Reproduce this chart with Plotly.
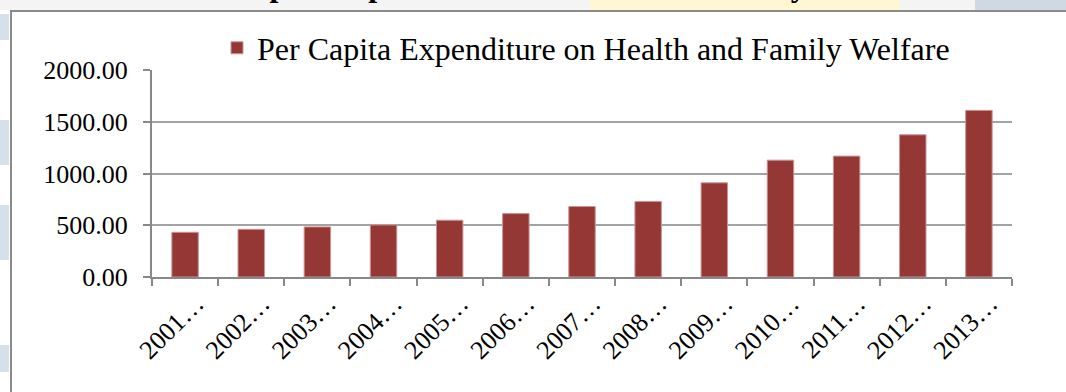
import plotly.graph_objects as go

# Per capita expenditure on Health and Family Welfare (Rs.), by year
years = ["2001…", "2002…", "2003…", "2004…", "2005…", "2006…", "2007…",
         "2008…", "2009…", "2010…", "2011…", "2012…", "2013…"]
expenditure = [432, 461, 484, 503, 549, 613, 681, 730, 910, 1129, 1168, 1374, 1610]
y_ticks = [0, 500, 1000, 1500, 2000]
y_tick_text = ["0.00", "500.00", "1000.00", "1500.00", "2000.00"]

series_name = "Per Capita Expenditure on Health and Family Welfare"
title_text = "Per Capita Expenditure on Health and Family Welfare"

W, H = 1066, 392
ML, MR, MT, MB = 152, 54, 70, 115
PW, PH = W - ML - MR, H - MT - MB


def xp(px):
    return (px - ML) / PW


def yp(py):
    return (H - MB - py) / PH


serif = "Liberation Serif, Times New Roman, serif"
bar_red = "#953735"
grid_grey = "#a3a3a3"
axis_grey = "#888888"

fig = go.Figure(
    go.Bar(
        x=years,
        y=expenditure,
        name=series_name,
        marker=dict(color=bar_red, line=dict(color="#c99695", width=1)),
        showlegend=True,
    )
)

shapes = [
    # grey strip above the framed chart
    dict(type="rect", xref="paper", yref="paper", x0=xp(0), x1=xp(W), y0=yp(10), y1=yp(0),
         fillcolor="#f4f4f4", line=dict(width=0), layer="below"),
    dict(type="rect", xref="paper", yref="paper", x0=xp(590), x1=xp(900), y0=yp(10), y1=yp(0),
         fillcolor="#fff6d2", line=dict(width=0), layer="below"),
    dict(type="rect", xref="paper", yref="paper", x0=xp(975), x1=xp(W), y0=yp(10), y1=yp(0),
         fillcolor="#cfd9e4", line=dict(width=0), layer="below"),
]
# faint decoration in the left margin
for top, bottom in [(14, 40), (120, 165), (205, 260), (345, 372)]:
    shapes.append(dict(type="rect", xref="paper", yref="paper", x0=xp(0), x1=xp(9),
                       y0=yp(bottom), y1=yp(top), fillcolor="#d6e0ea",
                       line=dict(width=0), layer="below"))
# frame around the chart
shapes.append(dict(type="path", xref="paper", yref="paper",
                   path=f"M {xp(11)} {yp(H + 5)} L {xp(11)} {yp(11)} L {xp(W + 5)} {yp(11)}",
                   line=dict(color="#8a8a8a", width=2)))

fig.update_layout(
    width=W, height=H,
    margin=dict(l=ML, r=MR, t=MT, b=MB, pad=0),
    paper_bgcolor="white",
    plot_bgcolor="white",
    bargap=0.6,
    font=dict(family=serif, color="black"),
    shapes=shapes,
    annotations=[
        # page heading running off the top edge
        dict(text=f"<b>{title_text}</b>", xref="paper", yref="paper",
             x=xp(173), y=yp(5), xanchor="left", yanchor="bottom",
             showarrow=False, font=dict(family=serif, size=32, color="black")),
    ],
    legend=dict(
        orientation="h",
        x=xp(217), y=yp(48), xanchor="left", yanchor="middle",
        font=dict(family=serif, size=32, color="black"),
        bgcolor="rgba(0,0,0,0)",
    ),
    xaxis=dict(
        type="category",
        showline=True, linecolor=axis_grey, linewidth=2,
        ticks="outside", ticklen=7, tickcolor=axis_grey, tickwidth=1.5,
        tickson="boundaries",
        tickangle=-45,
        tickfont=dict(family=serif, size=26, color="black"),
        ticklabelshift=11,
        ticklabelstandoff=-1,
        showgrid=False,
    ),
    yaxis=dict(
        range=[0, 2000],
        tickvals=y_ticks, ticktext=y_tick_text,
        showline=True, linecolor=axis_grey, linewidth=2,
        ticks="outside", ticklen=7, tickcolor=axis_grey, tickwidth=1.5,
        showgrid=True, gridcolor=grid_grey, gridwidth=1.5,
        zeroline=False,
        tickfont=dict(family=serif, size=26, color="black"),
        ticklabelstandoff=10,
    ),
)

fig.write_html("out.html")
